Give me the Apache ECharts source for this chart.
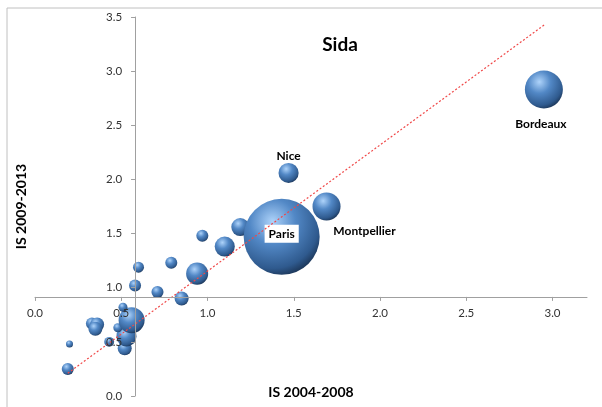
<!DOCTYPE html>
<html>
<head>
<meta charset="utf-8">
<script src="https://cdn.jsdelivr.net/npm/echarts@6/dist/echarts.min.js"></script>
<style>
  html, body { margin: 0; padding: 0; background: #fff; }
  #main { width: 602px; height: 407px; }
</style>
</head>
<body>
<div id="main"></div>
<script>
// données
var villes = ['', '', '', '', '', '', '', '', '', '', '', '', '', '', '', '', '', '', '', '', 'Nice', 'Montpellier', 'Paris', 'Bordeaux'];
var is0408 = [0.19, 0.20, 0.43, 0.52, 0.53, 0.48, 0.33, 0.36, 0.35, 0.56, 0.51, 0.58, 0.60, 0.71, 0.85, 0.79, 0.94, 0.97, 1.10, 1.19, 1.47, 1.69, 1.43, 2.95];
var is0913 = [0.25, 0.48, 0.50, 0.44, 0.55, 0.63, 0.67, 0.66, 0.62, 0.70, 0.82, 1.02, 1.19, 0.96, 0.90, 1.23, 1.13, 1.48, 1.38, 1.56, 2.06, 1.75, 1.47, 2.83];
var taille = [2.5, 0.85, 1.7, 3.4, 7, 1.4, 2.5, 3.4, 3.4, 11.7, 1.4, 2.5, 2.1, 2.5, 3.4, 2.5, 8.4, 2.5, 7, 5.6, 7, 13.6, 100, 25];
// courbe de tendance (extrémités)
var tendanceX = [0.19, 2.955];
var tendanceY = [0.21, 3.43];
var xTicks = [0, 3.2];
var yTicks = [0, 3.5];

var myChart = echarts.init(document.getElementById('main'));

var police = 'Lato, "Open Sans", sans-serif';
var gridW = 602 - 35 - 15, gridH = 407 - 17 - 11;
var croiseX = 0.58, croiseY = 0.915;

var etiquettes = {
    'Paris': { offset: [0, -3], backgroundColor: '#fff', padding: [3, 4] },
    'Nice': { offset: [0, -17] },
    'Montpellier': { offset: [38, 25] },
    'Bordeaux': { offset: [-3, 35] }
};

var bulle = new echarts.graphic.RadialGradient(0.38, 0.3, 0.75, [
    { offset: 0, color: '#aed3fa' },
    { offset: 0.4, color: '#5288c6' },
    { offset: 0.82, color: '#2f5a8e' },
    { offset: 1, color: '#1a3252' }
]);

var points = is0408.map(function (x, i) {
    var p = { value: [x, is0913[i], taille[i]], name: villes[i] };
    if (villes[i]) {
        p.label = Object.assign({
            show: true, position: 'inside', formatter: '{b}',
            color: '#000', fontWeight: 'bold', fontSize: 12, fontFamily: police
        }, etiquettes[villes[i]]);
    }
    return p;
});

option = {
    animation: false,
    title: {
        text: 'Sida',
        left: 335,
        top: 30,
        textAlign: 'center',
        textStyle: { fontFamily: police, fontSize: 19, fontWeight: 'bold', color: '#000' }
    },
    graphic: [{
        type: 'rect',
        shape: { x: 7, y: 8, width: 700, height: 500 },
        style: { fill: 'none', stroke: '#c0c0c0', lineWidth: 1 },
        silent: true
    }],
    grid: { left: 35, right: 15, top: 17, bottom: 11 },
    xAxis: {
        type: 'value',
        min: xTicks[0], max: xTicks[1], interval: 0.5,
        offset: -gridH * croiseY / yTicks[1],
        zlevel: 1,
        name: 'IS 2004-2008',
        nameLocation: 'middle',
        nameGap: 89,
        nameTextStyle: { fontFamily: police, fontSize: 14, fontWeight: 'bold', color: '#000' },
        axisLine: { lineStyle: { color: '#a0a0a0' } },
        axisTick: { length: 4, lineStyle: { color: '#a0a0a0' } },
        axisLabel: {
            margin: 10, fontFamily: police, fontSize: 11.5, color: '#333', showMaxLabel: false,
            hideOverlap: false,
            formatter: function (v) { return v.toFixed(1); }
        },
        splitLine: { show: false }
    },
    yAxis: {
        type: 'value',
        min: yTicks[0], max: yTicks[1], interval: 0.5,
        offset: -gridW * croiseX / xTicks[1],
        zlevel: 1,
        name: 'IS 2009-2013',
        nameLocation: 'middle',
        nameGap: 107,
        nameTextStyle: { fontFamily: police, fontSize: 14, fontWeight: 'bold', color: '#000' },
        axisLine: { lineStyle: { color: '#a0a0a0' } },
        axisTick: { length: 4, lineStyle: { color: '#a0a0a0' } },
        axisLabel: {
            margin: 13, fontFamily: police, fontSize: 11.5, color: '#333',
            hideOverlap: false,
            formatter: function (v) { return v.toFixed(1); }
        },
        splitLine: { show: false }
    },
    series: [
        {
            type: 'scatter',
            data: points,
            symbolSize: function (val) { return 76 * Math.sqrt(val[2] / 100); },
            itemStyle: { color: bulle, opacity: 1 }
        },
        {
            type: 'line',
            data: [[tendanceX[0], tendanceY[0]], [tendanceX[1], tendanceY[1]]],
            showSymbol: false,
            z: 4,
            lineStyle: { color: '#f04848', width: 1.2, type: [2, 2] }
        }
    ]
};

myChart.setOption(option);
</script>
</body>
</html>
